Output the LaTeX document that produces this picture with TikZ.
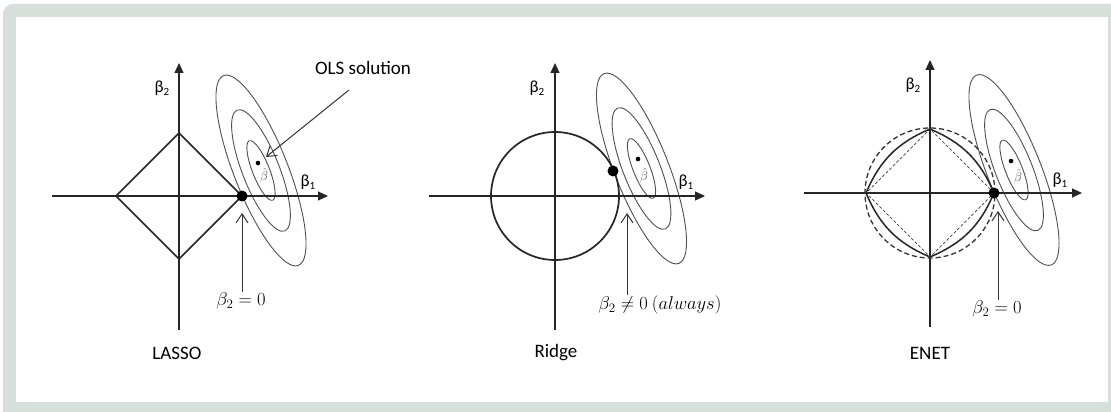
\RequirePackage{fix-cm}
\documentclass[tikz,border=0pt]{standalone}
\usepackage{fontspec}
\setmainfont{Carlito}
\usetikzlibrary{arrows.meta}
\definecolor{framegrey}{HTML}{D6DFDA}
\definecolor{ellgrey}{HTML}{505050}
\newcommand\axsub[1]{\raisebox{-0.4ex}{\fontsize{11}{12}\selectfont #1}}
\tikzset{
  axis/.style={line width=1.2pt, draw=black!85, -{Triangle[length=10pt,width=9pt]}},
  constraint/.style={line width=1.7pt, draw=black!85},
  ell/.style={line width=0.9pt, draw=ellgrey},
  pointer/.style={line width=1pt, draw=black!80, -{Straight Barb[length=9pt,width=12pt]}},
  axlab/.style={font=\fontsize{17}{20}\selectfont, inner sep=0pt},
  mathlab/.style={font=\fontsize{18.5}{22}\selectfont, inner sep=1pt},
  paneltitle/.style={font=\fontsize{19}{22}\selectfont, inner sep=0pt},
  hatlab/.style={font=\fontsize{13}{15}\selectfont, text=black!70, inner sep=0pt},
  dashcircle/.style={line width=1.3pt, draw=black!80, dash pattern=on 5pt off 3pt},
  dashdiamond/.style={line width=0.7pt, draw=black!75, dash pattern=on 3pt off 2pt},
}
\newcommand\contours[2]{%
  \begin{scope}[shift={(#1)}, rotate=#2]
    \draw[ell] (0,0) ellipse [x radius=102pt, y radius=27pt];
    \draw[ell] (0,0) ellipse [x radius=65pt, y radius=18.5pt];
    \draw[ell] (0,0) ellipse [x radius=32pt, y radius=8.5pt];
  \end{scope}}
\begin{document}
\begin{tikzpicture}[x=1pt, y=1pt]
\useasboundingbox (0,0) rectangle (1111,412);
% frame
\fill[white] (0,0) rectangle (1111,412);
\fill[framegrey, rounded corners=10pt] (3,-20) rectangle (1135,408);
\fill[white] (16,10) rectangle (1108,395);

% ================= LASSO =================
\coordinate (o1) at (179,216);
\contours{261,241.5}{-68.5}
\draw[axis] (52,216) coordinate (l-xs) -- (328,216) coordinate (l-xe);
\draw[axis] (179,82) coordinate (l-ys) -- (179,349) coordinate (l-ye);
\coordinate (l-r) at (242,216);
\coordinate (l-t) at (179,279);
\coordinate (l-l) at (116,216);
\coordinate (l-b) at (179,153);
\draw[constraint] (l-r) -- (l-t) -- (l-l) -- (l-b) -- cycle;
\fill (l-r) circle [radius=5.5pt];
\coordinate (l-bh) at (258,249);
\fill (l-bh) circle [radius=2.3pt];
\node[hatlab] (l-bhl) at (264,236) {$\hat\beta$};
\node[axlab] (l-b2) at (162,324) {β\axsub{2}};
\node[axlab] (l-b1) at (308,230) {β\axsub{1}};
\node[mathlab] (l-lab) at (241,111) {$\beta_2 = 0$};
\coordinate (l-tip) at (242,199);
\draw[pointer] (l-lab.north -| l-tip) -- (l-tip);
\node[paneltitle] (l-title) at (177,59) {LASSO};
\node[paneltitle] (ols) at (363,344) {OLS solution};
\coordinate (ols-tail) at (349,322);
\coordinate (ols-head) at (266,255);
\draw[pointer] (ols-tail) -- (ols-head);

% ================= Ridge =================
\coordinate (o2) at (555,216);
\contours{641.5,243.5}{-68.5}
\draw[axis] (429,216) coordinate (r-xs) -- (705,216) coordinate (r-xe);
\draw[axis] (555,82) coordinate (r-ys) -- (555,349) coordinate (r-ye);
\draw[constraint] (o2) circle [radius=64pt];
\coordinate (r-opt) at (613,241);
\fill (r-opt) circle [radius=5.5pt];
\coordinate (r-bh) at (638,253);
\fill (r-bh) circle [radius=2.3pt];
\node[hatlab] (r-bhl) at (644,236) {$\hat\beta$};
\node[axlab] (r-b2) at (537,324) {β\axsub{2}};
\node[axlab] (r-b1) at (686,230) {β\axsub{1}};
\node[mathlab] (r-lab) at (660,107) {$\beta_2 \neq 0\ (always)$};
\coordinate (r-tip) at (627,199);
\draw[pointer] (r-lab.north -| r-tip) -- (r-tip);
\node[paneltitle] (r-title) at (556,59) {Ridge};

% ================= ENET =================
\coordinate (o3) at (930,219);
\contours{1014,242}{-68.5}
\draw[axis] (804,219) coordinate (e-xs) -- (1082,219) coordinate (e-xe);
\draw[axis] (930,85) coordinate (e-ys) -- (930,352) coordinate (e-ye);
\coordinate (e-r) at (994,219);
\coordinate (e-t) at (930,283);
\coordinate (e-l) at (866,219);
\coordinate (e-b) at (930,155);
\draw[dashcircle] (o3) circle [radius=65pt];
\draw[dashdiamond] (e-r) -- (e-t) -- (e-l) -- (e-b) -- cycle;
\draw[constraint, line width=1.5pt] (e-r) to[bend right=22] (e-t) to[bend right=22] (e-l) to[bend right=22] (e-b) to[bend right=22] (e-r);
\fill (e-r) circle [radius=5.5pt];
\coordinate (e-bh) at (1011,251);
\fill (e-bh) circle [radius=2.3pt];
\node[hatlab] (e-bhl) at (1018,235) {$\hat\beta$};
\node[axlab] (e-b2) at (913,327) {β\axsub{2}};
\node[axlab] (e-b1) at (1060,232) {β\axsub{1}};
\node[mathlab] (e-lab) at (997,103) {$\beta_2 = 0$};
\coordinate (e-tip) at (998,201);
\draw[pointer] (e-lab.north -| e-tip) -- (e-tip);
\node[paneltitle] (e-title) at (930,59) {ENET};
\end{tikzpicture}
\end{document}
